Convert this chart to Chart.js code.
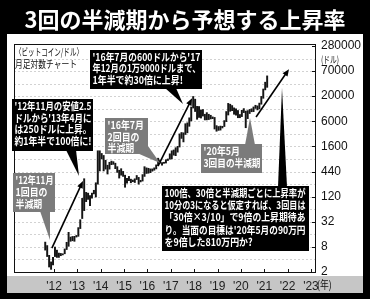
<!DOCTYPE html>
<html>
<head>
<meta charset="utf-8">
<script src="https://cdn.jsdelivr.net/npm/chart.js@4.4.0/dist/chart.umd.min.js"></script>
<style>
    html, body { margin: 0; padding: 0; background: #000; }
    canvas { display: block; }
</style>
</head>
<body>
<canvas id="btc-chart" width="370" height="299"></canvas>
<script>
// monthly bars, first bar = Aug 2011
const startYear = 2011;
const startMonth = 8;

const monthLows = [
    6.3, 4.5, 2.6, 2.3, 2.9,                                              // 2011
    4.5, 4.3, 4.3, 4.7, 4.9, 5.2, 6.5, 7.7, 10, 10.3, 10, 12.5,           // 2012
    13, 19.5, 33, 50, 80, 90, 65, 96, 120, 102, 200, 400,                 // 2013
    750, 400, 440, 340, 440, 555, 565, 450, 370, 275, 320, 300,           // 2014
    170, 210, 240, 215, 228, 218, 255, 200, 225, 235, 300, 350,           // 2015
    355, 365, 395, 415, 445, 530, 600, 540, 595, 605, 690, 740,           // 2016
    750, 915, 890, 1070, 1400, 2200, 1830, 2700, 2950, 4150, 5500, 10800, // 2017
    9000, 6000, 6600, 6400, 7100, 5800, 5800, 5900, 6100, 6200, 3600, 3200, // 2018
    3350, 3400, 3800, 4100, 5300, 7500, 9100, 9400, 7800, 7400, 6500, 6500, // 2019
    6900, 8500, 3850, 6200, 8100, 8900, 8950, 10600, 9800, 10400, 13200, 18000, // 2020
    28000, 32000                                                          // 2021
];

const monthHighs = [
    9.6, 8, 4.8, 3.4, 4.3,
    7.4, 6.3, 5.4, 5.3, 5.2, 6.7, 9.5, 16, 12.5, 12.9, 13, 13.6,
    20.5, 31, 95, 266, 130, 125, 110, 125, 145, 215, 1150, 1150,
    1000, 900, 700, 540, 630, 670, 650, 600, 500, 415, 450, 390,
    320, 270, 300, 260, 248, 265, 315, 285, 245, 330, 500, 470,
    460, 445, 445, 470, 550, 780, 705, 620, 630, 720, 750, 980,
    1150, 1200, 1350, 1450, 2790, 3000, 2950, 4750, 4980, 6470, 11400, 19800,
    17200, 11800, 11700, 9800, 10000, 7800, 8500, 7800, 7400, 6800, 6600, 4300,
    4100, 4200, 4150, 5600, 9000, 13800, 13200, 12300, 10900, 10400, 9500, 7700,
    9600, 10500, 9200, 9450, 10050, 10400, 11450, 12500, 12100, 14000, 19900, 29300,
    41900, 58300
];

const yearTicks = [2012, 2013, 2014, 2015, 2016, 2017, 2018, 2019, 2020, 2021, 2022, 2023];
const yearLabels = ["'12", "'13", "'14", "'15", "'16", "'17", "'18", "'19", "'20", "'21", "'22", "'23"];
const priceLabels = ["2", "8", "32", "120", "440", "1600", "6000", "20000", "70000", "280000"];

// labelled ticks sit evenly on the log axis between 2 and 280000, grid every half step
const priceSteps = (priceLabels.length - 1) * 2;
const priceTicks = [];
for (let i = 0; i <= priceSteps; i += 1) {
    priceTicks.push(2 * Math.pow(280000 / 2, i / priceSteps));
}

const bars = monthLows.map((low, i) => ({
    x: startYear + (startMonth - 1 + i + 0.5) / 12,
    y: [low, monthHighs[i]]
}));

const jpFont = '"Noto Sans CJK JP", "Noto Sans", sans-serif';
const numFont = '"Liberation Sans Narrow", "Liberation Sans", Arial, sans-serif';

const callouts = [
    { fill: "#7b7b7b", box: [13, 173, 42, 39], ptr: [[40, 211], [50, 211], [50, 240]],
      lines: ["'12年11月", "1回目の", "半減期"], ys: [180, 192, 204] },
    { fill: "#7b7b7b", box: [105, 118, 43, 36], ptr: [[137, 153], [148, 146], [160, 163]],
      lines: ["'16年7月", "2回目の", "半減期"], ys: [125, 137, 148] },
    { fill: "#7b7b7b", box: [201, 144, 61, 29], ptr: [[245, 145], [255, 145], [250, 118]],
      lines: ["'20年5月", "3回目の半減期"], ys: [151, 163] },
    { fill: "#000", box: [12, 99, 81, 52], ptr: [[66, 150], [76, 150], [79, 176]],
      lines: ["'12年11月の安値2.5", "ドルから'13年4月に", "は250ドルに上昇。", "約1年半で100倍に!"], ys: [106, 118, 129.5, 141] },
    { fill: "#000", box: [90, 50, 112, 39], ptr: [[165, 88], [176, 88], [183, 104]],
      lines: ["'16年7月の600ドルから'17", "年12月の1万9000ドルまで、", "1年半で約30倍に上昇!"], ys: [57, 68.5, 80] },
    { fill: "#000", box: [162, 186, 147, 65], ptr: [[278, 187], [287, 187], [282, 88]],
      lines: ["100倍、30倍と半減期ごとに上昇率が", "10分の3になると仮定すれば、3回目は", "「30倍×3/10」で9倍の上昇期待あ", "り。当面の目標は'20年5月の90万円", "を9倍した810万円か?"],
      ys: [193, 205.5, 217.5, 230, 242], fit: [141, 141, 141, 141, 0] }
];

// arrows in chart units: [year, price]
const arrows = [
    { from: [2011.91, 7], to: [2013.24, 235] },
    { from: [2016.45, 517], to: [2017.91, 18000] },
    { from: [2020.65, 6760], to: [2022.06, 83000] }
];

const drawText = (ctx, text, x, y, scale, maxW, fitW) => {
    const w = ctx.measureText(text).width;
    let s = scale;
    if (fitW) s = fitW / w;
    else if (maxW && w * s > maxW) s = maxW / w;
    ctx.save();
    ctx.translate(x, y);
    ctx.scale(s, 1);
    ctx.fillText(text, 0, 0);
    ctx.restore();
};

const decorPlugin = {
    id: "decor",
    beforeDraw(chart) {
        const { ctx } = chart;
        ctx.save();
        ctx.fillStyle = "#000";
        ctx.fillRect(0, 0, chart.width, chart.height);
        ctx.fillStyle = "#fff";
        ctx.fillRect(7, 34, 356, 242);
        ctx.fillStyle = "#c6c6c6";
        ctx.fillRect(7, 276, 356, 17);

        ctx.fillStyle = "#fff";
        ctx.font = `bold 22px ${jpFont}`;
        ctx.textAlign = "center";
        ctx.textBaseline = "middle";
        ctx.fillText("3回の半減期から予想する上昇率", 185, 20);
        ctx.restore();
    },
    beforeDatasetsDraw(chart) {
        const { ctx, chartArea: a, scales } = chart;
        ctx.save();
        ctx.strokeStyle = "#d2d2d2";
        ctx.lineWidth = 1;
        ctx.setLineDash([2, 2]);
        priceTicks.slice(1, -1).forEach((v) => {
            const y = Math.round(scales.y.getPixelForValue(v)) + 0.5;
            ctx.beginPath();
            ctx.moveTo(a.left, y);
            ctx.lineTo(a.right, y);
            ctx.stroke();
        });
        ctx.setLineDash([]);
        ctx.strokeStyle = "#111";
        ctx.strokeRect(a.left + 0.5, a.top + 0.5, a.right - a.left - 1, a.bottom - a.top - 1);

        priceTicks.forEach((v, i) => {
            if (i % 2) return;
            const y = Math.round(scales.y.getPixelForValue(v)) + 0.5;
            ctx.beginPath();
            ctx.moveTo(a.right - 4, y);
            ctx.lineTo(a.right, y);
            ctx.stroke();
        });
        yearTicks.forEach((yr) => {
            const x = Math.round(scales.x.getPixelForValue(yr)) + 0.5;
            ctx.beginPath();
            ctx.moveTo(x, a.bottom);
            ctx.lineTo(x, a.bottom - 4);
            ctx.stroke();
        });
        ctx.restore();
    },
    afterDatasetsDraw(chart) {
        const { ctx, scales } = chart;
        ctx.save();

        // top-left caption and unit labels
        ctx.fillStyle = "#111";
        ctx.textBaseline = "middle";
        ctx.textAlign = "left";
        ctx.font = `10px ${jpFont}`;
        drawText(ctx, "〈ビットコイン/ドル〉", 15, 52, 1, 0, 68);
        drawText(ctx, "月足対数チャート", 15, 64, 1, 0, 62);
        ctx.font = `9.5px ${jpFont}`;
        drawText(ctx, "(ドル)", 321, 59, 1, 0, 18);
        ctx.font = `11px ${jpFont}`;
        drawText(ctx, "(年)", 317, 285, 0.8, 0, 0);

        // arrows
        arrows.forEach(({ from, to }) => {
            const x1 = scales.x.getPixelForValue(from[0]);
            const y1 = scales.y.getPixelForValue(from[1]);
            const x2 = scales.x.getPixelForValue(to[0]);
            const y2 = scales.y.getPixelForValue(to[1]);
            const ang = Math.atan2(y2 - y1, x2 - x1);
            const head = 7;
            ctx.strokeStyle = "#000";
            ctx.fillStyle = "#000";
            ctx.lineWidth = 1.6;
            ctx.beginPath();
            ctx.moveTo(x1, y1);
            ctx.lineTo(x2 - Math.cos(ang) * head * 0.8, y2 - Math.sin(ang) * head * 0.8);
            ctx.stroke();
            ctx.beginPath();
            ctx.moveTo(x2, y2);
            ctx.lineTo(x2 - head * Math.cos(ang) + 3 * Math.sin(ang), y2 - head * Math.sin(ang) - 3 * Math.cos(ang));
            ctx.lineTo(x2 - head * Math.cos(ang) - 3 * Math.sin(ang), y2 - head * Math.sin(ang) + 3 * Math.cos(ang));
            ctx.closePath();
            ctx.fill();
        });

        // callout boxes
        callouts.forEach((c) => {
            const [bx, by, bw, bh] = c.box;
            ctx.fillStyle = c.fill;
            ctx.beginPath();
            ctx.moveTo(c.ptr[0][0], c.ptr[0][1]);
            ctx.lineTo(c.ptr[1][0], c.ptr[1][1]);
            ctx.lineTo(c.ptr[2][0], c.ptr[2][1]);
            ctx.closePath();
            ctx.fill();
            ctx.fillRect(bx, by, bw, bh);

            ctx.fillStyle = "#fff";
            ctx.font = `bold 10.5px ${jpFont}`;
            ctx.textAlign = "left";
            ctx.textBaseline = "middle";
            c.lines.forEach((line, i) => {
                const fitW = c.fit ? c.fit[i] : 0;
                drawText(ctx, line, bx + 2.5, c.ys[i], 0.85, bw - 4, fitW);
            });
        });
        ctx.restore();
    }
};

new Chart(document.getElementById("btc-chart"), {
    type: "bar",
    data: {
        datasets: [{
            label: "BTC/USD",
            data: bars,
            backgroundColor: "#151515",
            borderWidth: 0,
            barThickness: 1.3
        }]
    },
    options: {
        responsive: false,
        animation: false,
        events: [],
        layout: { padding: { left: 14, top: 44, right: 0, bottom: 0 } },
        plugins: {
            legend: { display: false },
            tooltip: { enabled: false }
        },
        scales: {
            x: {
                type: "linear",
                offset: false,
                min: 2010.288,
                max: 2023.216,
                grid: { display: false, drawTicks: false, offset: false },
                border: { display: false },
                afterFit: (s) => { s.height = 26; },
                afterBuildTicks: (s) => { s.ticks = yearTicks.map((v) => ({ value: v })); },
                ticks: {
                    autoSkip: false,
                    maxRotation: 0,
                    padding: 6,
                    color: "#222",
                    font: { family: numFont, size: 12 },
                    callback: (v, i) => yearLabels[i]
                }
            },
            y: {
                type: "logarithmic",
                position: "right",
                min: 1.9,
                max: 310000,
                grid: { display: false, drawTicks: false },
                border: { display: false },
                afterFit: (s) => { s.width = 54; },
                afterBuildTicks: (s) => { s.ticks = priceTicks.map((v) => ({ value: v })); },
                ticks: {
                    autoSkip: false,
                    padding: 5,
                    color: "#111",
                    font: { family: numFont, size: 12 },
                    callback: (v, i) => (i % 2 ? "" : priceLabels[i / 2])
                }
            }
        }
    },
    plugins: [decorPlugin]
});
</script>
</body>
</html>
